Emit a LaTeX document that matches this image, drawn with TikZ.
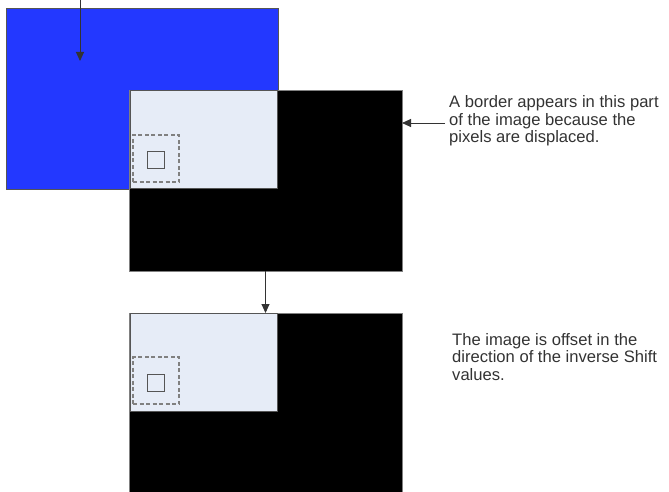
\documentclass[tikz,border=0pt]{standalone}
\usepackage{fontspec}
\setmainfont{Liberation Sans}
\usetikzlibrary{arrows.meta}
\definecolor{blueimg}{HTML}{2338FF}
\definecolor{lightimg}{HTML}{E6ECF7}
\definecolor{edgegray}{HTML}{555555}
\definecolor{txtgray}{HTML}{333333}
\begin{document}
\begin{tikzpicture}[x=1pt,y=-1pt,
  box/.style={draw=edgegray,line width=0.8pt,anchor=north west,inner sep=0pt,outer sep=0pt},
  dashbox/.style={draw=gray,dashed,dash pattern=on 4pt off 2.5pt,line width=1.2pt,anchor=north west,inner sep=0pt,outer sep=0pt,minimum width=46pt,minimum height=47pt},
  smallbox/.style={draw=edgegray,line width=1pt,anchor=north west,inner sep=0pt,outer sep=0pt,minimum width=17pt,minimum height=17pt},
  arr/.style={draw=black!80,line width=0.9pt,-{Triangle[length=9pt,width=8pt]}},
  note/.style={align=left,anchor=west,inner sep=0pt,text=txtgray,font=\fontsize{16.6}{17.4}\selectfont}]
\useasboundingbox (0,0) rectangle (669,492);
\node[box,fill=blueimg,minimum width=272pt,minimum height=181pt] (blue) at (6,8) {};
\node[box,fill=black,draw=gray,minimum width=273pt,minimum height=181pt] (blk1) at (129,90) {};
\node[box,fill=lightimg,minimum width=147pt,minimum height=98pt] (lt1) at (130,90) {};
\node[dashbox] (d1) at (133,135) {};
\node[smallbox] (s1) at (147,151) {};
\node[box,fill=black,draw=gray,minimum width=273pt,minimum height=185pt] (blk2) at (129,313) {};
\node[box,fill=lightimg,minimum width=147pt,minimum height=98pt] (lt2) at (130,313) {};
\node[dashbox] (d2) at (133,357) {};
\node[smallbox] (s2) at (147,374) {};
\node[note] (t1) at (449,121) {A border appears in this part\\of the image because the\\pixels are displaced.};
\node[note] (t2) at (452,357) {The image is offset in the\\direction of the inverse Shift\\values.};
\coordinate (top) at (80,0);
\coordinate (topend) at (80,61);
\coordinate (a2start) at (445,123);
\draw[arr] (top) -- (topend);
\draw[arr] (a2start) -- (blk1.east |- a2start);
\draw[arr] (blk1.south) -- (blk2.north);
\end{tikzpicture}
\end{document}
